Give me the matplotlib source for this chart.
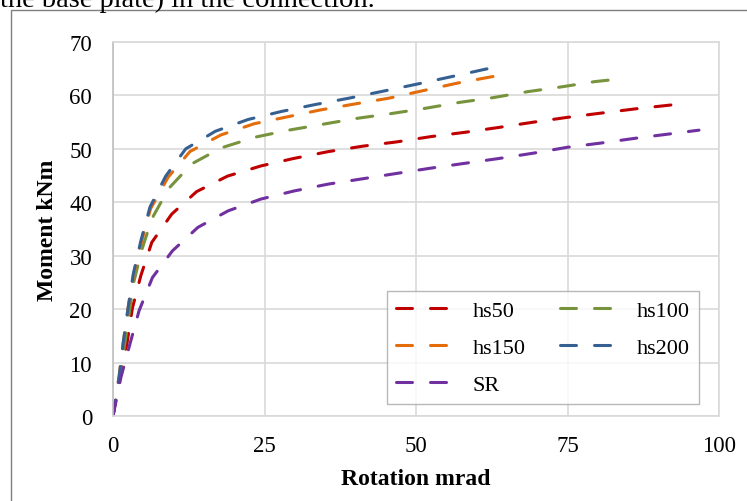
import matplotlib.pyplot as plt
from matplotlib.patches import Rectangle

plt.rcParams['font.family'] = ['Liberation Serif', 'DejaVu Serif']
plt.rcParams['lines.scale_dashes'] = False

# moment-rotation curves read per series (rotation in mrad, moment in kNm)
hs50_rot = [0, 1.1, 2.3, 3.2, 4.6, 6.4, 9.7, 13.8, 18.9, 24.4, 29.8, 35.6, 41.2,
            46.8, 52.5, 58.1, 63.6, 69.4, 75.0, 80.6, 86.3, 92.0, 94.0]
hs50_mom = [0, 7.3, 13.5, 20.2, 26.3, 32.5, 37.8, 42.0, 44.9, 46.8, 48.2, 49.5, 50.5,
            51.3, 52.3, 53.1, 54.0, 55.0, 55.9, 56.7, 57.5, 58.2, 58.5]

hs100_rot = [0, 1.2, 2.4, 3.35, 4.7, 6.4, 9.2, 13.0, 17.9, 23.5, 29.0, 34.6, 40.2,
             45.9, 51.6, 57.2, 62.8, 68.4, 74.0, 79.6, 84.6]
hs100_mom = [0, 8.0, 17.0, 24.7, 30.9, 36.9, 42.6, 47.2, 50.2, 52.2, 53.5, 54.6, 55.7,
             56.6, 57.6, 58.7, 59.6, 60.7, 61.6, 62.6, 63.2]

hs150_rot = [0, 1.0, 1.7, 2.5, 3.4, 4.7, 6.2, 9.1, 12.7, 17.8, 23.3, 28.8, 34.3,
             39.9, 45.6, 51.2, 56.8, 62.5, 63.8]
hs150_mom = [0, 7.3, 13.8, 20.3, 26.5, 32.6, 38.8, 44.7, 49.5, 52.6, 54.7, 56.0, 57.3,
             58.4, 59.5, 60.9, 62.3, 63.5, 63.7]

hs200_rot = [0, 1.0, 1.7, 2.5, 3.35, 4.6, 6.1, 8.7, 12.0, 16.9, 22.3, 27.8, 33.4,
             39.0, 44.6, 50.1, 55.8, 61.4, 62.7]
hs200_mom = [0, 7.3, 13.8, 20.3, 26.6, 32.8, 39.1, 44.9, 50.0, 53.3, 55.5, 57.0, 58.3,
             59.5, 60.8, 62.1, 63.5, 64.9, 65.2]

sr_rot = [0, 1.3, 2.8, 4.3, 6.5, 9.8, 14.0, 19.0, 24.4, 29.8, 35.5, 41.2, 46.8,
          52.5, 58.1, 63.7, 69.4, 75.0, 80.6, 86.3, 91.9, 96.7]
sr_mom = [0, 7.2, 13.5, 19.7, 25.9, 30.9, 35.3, 38.4, 40.6, 42.1, 43.4, 44.4, 45.4,
          46.4, 47.3, 48.2, 49.2, 50.3, 51.1, 52.0, 52.8, 53.5]

series = [
    ('hs50', hs50_rot, hs50_mom, '#C00000'),
    ('hs100', hs100_rot, hs100_mom, '#77933C'),
    ('hs150', hs150_rot, hs150_mom, '#E46C0A'),
    ('hs200', hs200_rot, hs200_mom, '#376092'),
    ('SR', sr_rot, sr_mom, '#7030A0'),
]

x_ticks = [0, 25, 50, 75, 100]
y_ticks = [0, 10, 20, 30, 40, 50, 60, 70]

fig = plt.figure(figsize=(7.47, 5.02), dpi=100)

# surrounding document: caption line cut off at the top and the chart frame
fig.text(0.0, 1 - 7 / 502, 'the base plate) in the connection.', fontsize=20.5,
         ha='left', va='baseline')
fig.patches.append(Rectangle((11 / 747, -0.1), 1.2, 1.1 - 11 / 502,
                             transform=fig.transFigure, fill=False,
                             edgecolor='#7F7F7F', linewidth=1.0))

ax = fig.add_axes([113 / 747, 85 / 502, 606 / 747, 374 / 502])

lines = {}
for name, rot, mom, color in series:
    line, = ax.plot(rot, mom, color=color, linewidth=2.2, dashes=(11.5, 13.0),
                    dash_capstyle='round', solid_capstyle='round', label=name)
    lines[name] = line

ax.set_xlim(0, 100)
ax.set_ylim(0, 70)
ax.set_xticks(x_ticks)
ax.set_yticks(y_ticks)
ax.tick_params(length=0, labelsize=16.5)
ax.tick_params(axis='x', pad=14)
ax.tick_params(axis='y', pad=15)
ax.grid(True, color='#D9D9D9', linewidth=1.2)
ax.set_axisbelow(True)
for side in ['top', 'right', 'bottom']:
    ax.spines[side].set_color('#D9D9D9')
    ax.spines[side].set_linewidth(1.2)
ax.spines['left'].set_color('#BFBFBF')
ax.spines['left'].set_linewidth(1.2)

ax.set_xlabel('Rotation mrad', fontsize=17, fontweight='bold', labelpad=8)
ax.set_ylabel('Moment kNm', fontsize=17, fontweight='bold', labelpad=8)

order = ['hs50', 'hs150', 'SR', 'hs100', 'hs200']
leg = ax.legend([lines[n] for n in order], order, ncol=2, fontsize=16,
                loc='lower left', bbox_to_anchor=(0.452, 0.032, 0.515, 0.3),
                mode='expand', borderaxespad=0, fancybox=False,
                handlelength=2.3, handletextpad=1.15, labelspacing=0.75,
                columnspacing=2.0, borderpad=0.4)
leg.get_frame().set_edgecolor('#A6A6A6')
leg.get_frame().set_linewidth(1.0)

fig.savefig('out.png', dpi=100)
